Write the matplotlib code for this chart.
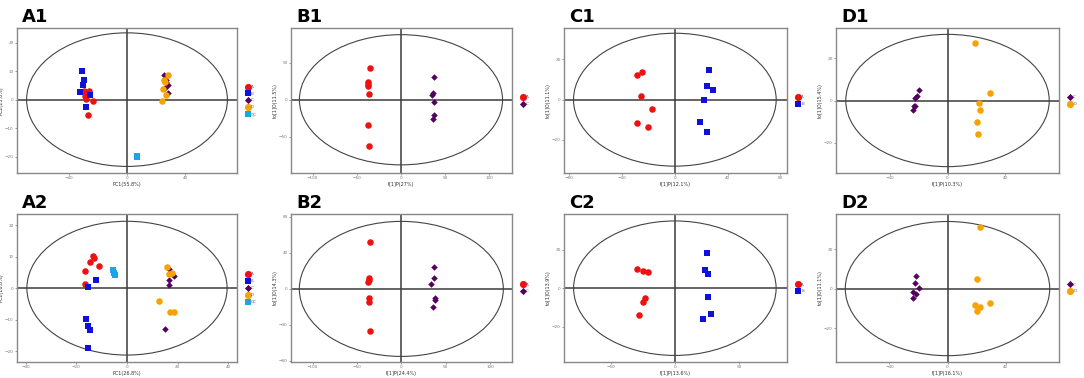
import matplotlib
matplotlib.use("Agg")
import matplotlib.pyplot as plt
from matplotlib.patches import Ellipse

# colours / markers per group
colors = {'A': '#EE1111', 'B': '#1010DD', 'C': '#55005F', 'D': '#F5A300', 'QC': '#1FA3E8'}
markers = {'A': 'o', 'B': 's', 'C': 'D', 'D': 'o', 'QC': 's'}
msize = {'A': 22, 'B': 20, 'C': 11, 'D': 22, 'QC': 20}

# ---- A1 (PCA, all groups)
a1_A = ([-29.7, -26.3, -28.6, -27.9, -23.3, -26.7], [2.9, 2.9, 1.2, 0.4, -0.4, -5.3])
a1_B = ([-30.9, -29.7, -30.4, -32.0, -25.6, -28.3], [9.9, 7.0, 5.1, 2.6, 1.5, -2.6])
a1_C = ([25.1, 27.0, 28.3, 26.3, 28.1, 26.6], [8.8, 6.3, 5.0, 4.1, 2.2, 6.9])
a1_D = ([27.9, 25.6, 24.5, 27.0, 24.0, 26.0], [8.8, 6.8, 3.9, 1.8, -0.4, 6.2])
a1_QC = ([6.9, 6.9, 7.0], [-19.9, -20.0, -19.8])

# ---- B1 (A vs C)
b1_A = ([-34.7, -37.7, -37.7, -37.7, -35.8, -37.0, -35.8], [42.8, 23.4, 21.2, 18.9, 7.2, -34.2, -62.2])
b1_C = ([37.7, 36.2, 35.5, 37.0, 37.7, 36.2], [30.6, 8.6, 5.9, -3.6, -20.7, -25.7])

# ---- C1 (A vs B)
c1_A = ([-29.0, -25.2, -26.0, -17.2, -28.3, -20.4], [12.4, 13.6, 2.0, -4.5, -11.4, -13.6])
c1_B = ([26.0, 24.2, 29.0, 22.0, 18.9, 24.5], [14.5, 6.6, 4.8, 0.0, -11.2, -16.2])

# ---- D1 (C vs D)
d1_C = ([-19.9, -21.1, -22.5, -23.4, -22.7, -24.1], [5.0, 2.3, 1.2, -2.8, -2.6, -4.7])
d1_D = ([19.0, 29.4, 21.8, 22.7, 20.6, 21.1], [27.2, 3.4, -1.4, -4.4, -10.1, -16.0])

# ---- A2
a2_A = ([-13.4, -13.2, -14.5, -11.2, -16.4, -16.4], [10.1, 9.6, 8.2, 6.9, 5.4, 1.2])
a2_B = ([-12.2, -15.4, -16.3, -15.5, -14.7, -15.5], [2.6, 0.4, -9.7, -12.0, -13.3, -19.1])
a2_C = ([16.7, 18.4, 16.7, 16.6, 15.1], [6.1, 4.0, 2.7, 1.1, -13.1])
a2_D = ([15.9, 16.7, 17.8, 12.5, 17.1, 18.4], [6.8, 4.6, 4.7, -4.2, -7.5, -7.7])
a2_QC = ([-5.5, -5.0, -4.6], [5.6, 4.7, 4.2])

# ---- B2
b2_A = ([-35.0, -36.5, -36.8, -37.2, -36.8, -36.5, -35.3], [51.6, 11.6, 9.7, 7.9, -10.1, -15.0, -46.4])
b2_C = ([37.2, 36.5, 33.5, 38.3, 38.3, 35.7], [24.7, 12.3, 4.9, -10.1, -12.7, -20.6])

# ---- C2
c2_A = ([-29.6, -24.7, -21.0, -23.1, -24.7, -27.8], [10.0, 9.0, 8.3, -5.0, -7.4, -14.1])
c2_B = ([24.7, 23.6, 26.0, 25.7, 28.3, 22.3], [18.3, 9.3, 7.1, -4.7, -13.4, -16.2])

# ---- D2
d2_C = ([-21.4, -22.3, -19.5, -23.9, -21.4, -23.9], [6.4, 2.7, 0.5, -1.5, -2.7, -4.9])
d2_D = ([22.3, 20.5, 19.1, 22.1, 29.2, 20.5], [31.4, 5.1, -8.1, -9.3, -7.5, -11.2])

# Hotelling ellipse half-axes (x, y)
ell = {'A1': (69, 23.4), 'B1': (115, 88), 'C1': (76.8, 33), 'D1': (70.8, 31.2),
       'A2': (39.5, 21.2), 'B2': (115, 75), 'C2': (79, 34.8), 'D2': (70.4, 34)}

xlabels = {'A1': 'PC1(55.8%)', 'B1': 't[1]P(27%)', 'C1': 't[1]P(12.1%)', 'D1': 't[1]P(10.3%)',
           'A2': 'PC1(26.8%)', 'B2': 't[1]P(24.4%)', 'C2': 't[1]P(13.6%)', 'D2': 't[1]P(16.1%)'}
ylabels = {'A1': 'PC2(25.8%)', 'B1': 'to[1]O(11.5%)', 'C1': 'to[1]O(11.1%)', 'D1': 'to[1]O(15.4%)',
           'A2': 'PC2(18.8%)', 'B2': 'to[1]O(14.3%)', 'C2': 'to[1]O(13.9%)', 'D2': 'to[1]O(11.1%)'}

panels = {
    'A1': {'A': a1_A, 'B': a1_B, 'C': a1_C, 'D': a1_D, 'QC': a1_QC},
    'B1': {'A': b1_A, 'C': b1_C},
    'C1': {'A': c1_A, 'B': c1_B},
    'D1': {'C': d1_C, 'D': d1_D},
    'A2': {'A': a2_A, 'B': a2_B, 'C': a2_C, 'D': a2_D, 'QC': a2_QC},
    'B2': {'A': b2_A, 'C': b2_C},
    'C2': {'A': c2_A, 'B': c2_B},
    'D2': {'C': d2_C, 'D': d2_D},
}

# layout (pixels) and axis ranges
W, H = 1084, 378
col_left = [17, 291, 564, 836]
col_w = [220, 221, 223, 223]
row_box = [(28, 173), (214, 362)]
lims = {'A1': ((-75.6, 75.6), (-25.7, 25.1), 40, 10),
        'B1': ((-124.5, 125.7), (-99, 97), 50, 50),
        'C1': ((-84, 85), (-36.4, 35.6), 40, 20),
        'D1': ((-77.6, 77.6), (-34.2, 34.2), 40, 20),
        'A2': ((-43.4, 43.4), (-23.4, 23.5), 20, 10),
        'B2': ((-124.4, 124.8), (-81.2, 83.2), 50, 40),
        'C2': ((-86.5, 87.5), (-38.2, 38.4), 50, 20),
        'D2': ((-76.8, 76.8), (-37.2, 37.8), 40, 20)}

fig = plt.figure(figsize=(W / 100, H / 100), dpi=100)

names = [['A1', 'B1', 'C1', 'D1'], ['A2', 'B2', 'C2', 'D2']]
for r in range(2):
    top, bot = row_box[r]
    for c in range(4):
        name = names[r][c]
        ax = fig.add_axes([col_left[c] / W, 1 - bot / H, col_w[c] / W, (bot - top) / H])
        (x0, x1), (y0, y1), xs, ys = lims[name]

        ax.axhline(0, color='#3a3a3a', lw=1.1, zorder=1)
        ax.axvline(0, color='#3a3a3a', lw=1.1, zorder=1)
        ex, ey = ell[name]
        ax.add_patch(Ellipse((0, 0), 2 * ex, 2 * ey, fill=False, ec='#444444', lw=0.8, zorder=1))

        for g, (xv, yv) in panels[name].items():
            ax.scatter(xv, yv, s=msize[g], marker=markers[g], c=colors[g], linewidths=0,
                       zorder=3, label=g)

        ax.set_xlim(x0, x1)
        ax.set_ylim(y0, y1)
        xt = [t * xs for t in range(-5, 6) if x0 < t * xs < x1]
        yt = [t * ys for t in range(-5, 6) if y0 < t * ys < y1]
        ax.set_xticks(xt)
        ax.set_yticks(yt)
        ax.tick_params(labelsize=3, colors='#777777', length=1.5, width=0.5, pad=1)
        for sp in ax.spines.values():
            sp.set_color('#888888')
            sp.set_linewidth(1.0)
        ax.set_xlabel(xlabels[name], fontsize=3.5, labelpad=1, color='#333333')
        ax.set_ylabel(ylabels[name], fontsize=3.5, labelpad=1, color='#333333')

        leg = ax.legend(loc='center left', bbox_to_anchor=(1.03, 0.5), frameon=False, fontsize=3,
                        handletextpad=0.3, labelspacing=0.7, borderpad=0, markerscale=1.1,
                        handlelength=1)
        for t in leg.get_texts():
            t.set_color('#666666')

        fig.text((col_left[c] + 5) / W, 1 - (top - 20) / H, name, fontsize=13,
                 fontweight='bold', va='top', ha='left')

fig.savefig('out.png', dpi=100, facecolor='white')
